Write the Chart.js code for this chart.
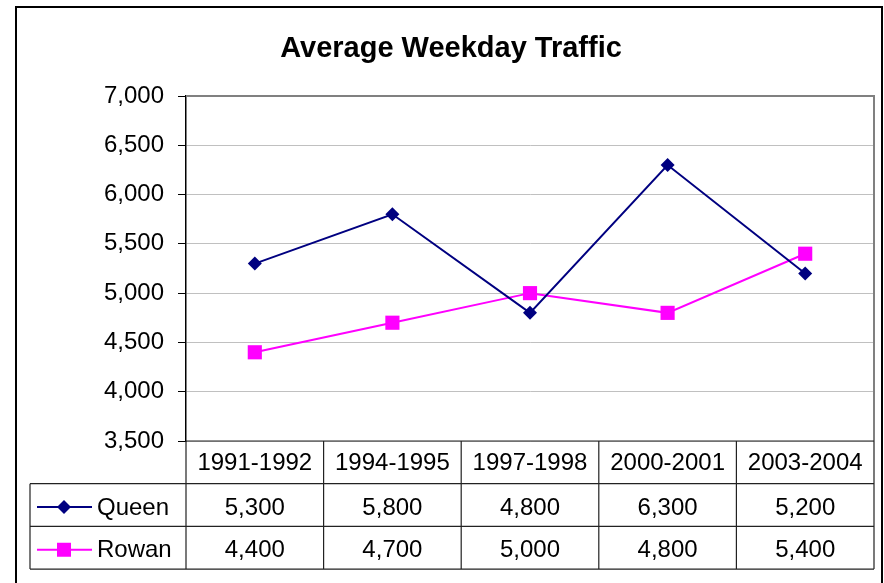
<!DOCTYPE html>
<html>
<head>
<meta charset="utf-8">
<script src="https://cdn.jsdelivr.net/npm/chart.js@4"></script>
<style>
  html, body { margin: 0; padding: 0; background: #fff; }
  #trafficChart { display: block; }
</style>
</head>
<body>
<canvas id="trafficChart" width="884" height="583"></canvas>
<script>
// ===== DATA =====
const categories = ['1991-1992', '1994-1995', '1997-1998', '2000-2001', '2003-2004'];
const queen = [5300, 5800, 4800, 6300, 5200];
const rowan = [4400, 4700, 5000, 4800, 5400];
const seriesNames = ['Queen', 'Rowan'];
const yMin = 3500, yMax = 7000, yStep = 500;

const FONT = "'Liberation Sans', Arial, sans-serif";
const fmt = v => Number(v).toLocaleString('en-US');

// frame, title and the data table under the plot
const tablePlugin = {
  id: 'dataTable',
  beforeDraw(chart) {
    const c = chart.ctx;
    c.save();
    c.fillStyle = '#fff';
    c.fillRect(0, 0, chart.width, chart.height);
    c.restore();
  },
  afterDraw(chart) {
    const c = chart.ctx;
    const area = chart.chartArea;
    const xs = chart.scales.x;
    const half = (xs.getPixelForValue(1) - xs.getPixelForValue(0)) / 2;
    const rowH = 42.7;
    const top = area.bottom;
    const legLeft = 30;
    const rows = [top, top + rowH, top + 2 * rowH, top + 3 * rowH];

    c.save();
    // plot area top + right border
    c.strokeStyle = '#808080';
    c.lineWidth = 2;
    c.beginPath();
    c.moveTo(area.left, area.top);
    c.lineTo(area.right, area.top);
    c.lineTo(area.right, area.bottom);
    c.stroke();

    // table grid
    c.strokeStyle = '#222';
    c.lineWidth = 1.2;
    c.beginPath();
    c.moveTo(area.left, rows[0]); c.lineTo(area.right, rows[0]);
    for (let r = 1; r < rows.length; r++) {
      c.moveTo(legLeft, rows[r]); c.lineTo(area.right, rows[r]);
    }
    c.moveTo(legLeft, rows[1]); c.lineTo(legLeft, rows[3]);
    categories.forEach((cat, i) => {
      const x = xs.getPixelForValue(i) - half;
      c.moveTo(x, rows[0]); c.lineTo(x, rows[3]);
    });
    c.moveTo(area.right, rows[0]); c.lineTo(area.right, rows[3]);
    c.stroke();

    // header + values
    c.fillStyle = '#000';
    c.font = '24px ' + FONT;
    c.textAlign = 'center';
    c.textBaseline = 'middle';
    categories.forEach((cat, i) => {
      const x = xs.getPixelForValue(i);
      c.fillText(cat, x, (rows[0] + rows[1]) / 2 + 1);
      c.fillText(fmt(queen[i]), x, (rows[1] + rows[2]) / 2 + 3);
      c.fillText(fmt(rowan[i]), x, (rows[2] + rows[3]) / 2 + 3);
    });

    // legend keys
    chart.data.datasets.forEach((ds, k) => {
      const y = (rows[k + 1] + rows[k + 2]) / 2 + 2;
      c.strokeStyle = ds.borderColor;
      c.lineWidth = 2;
      c.beginPath();
      c.moveTo(37, y); c.lineTo(92, y);
      c.stroke();
      c.fillStyle = ds.pointBackgroundColor;
      c.beginPath();
      if (ds.pointStyle === 'rectRot') {
        c.moveTo(64, y - 7); c.lineTo(71, y); c.lineTo(64, y + 7); c.lineTo(57, y);
        c.closePath();
      } else {
        c.rect(57, y - 7, 14, 14);
      }
      c.fill();
      c.fillStyle = '#000';
      c.textAlign = 'left';
      c.fillText(seriesNames[k], 97, y + 1);
    });

    // title
    c.font = 'bold 29px ' + FONT;
    c.textAlign = 'center';
    c.fillText('Average Weekday Traffic', 451, 49);

    // outer frame
    c.strokeStyle = '#000';
    c.lineWidth = 2;
    c.strokeRect(16, 7, 866, 600);
    c.restore();
  }
};

new Chart(document.getElementById('trafficChart'), {
  type: 'line',
  data: {
    labels: categories,
    datasets: [{
      label: seriesNames[0],
      data: queen,
      borderColor: '#000080',
      backgroundColor: '#000080',
      pointBackgroundColor: '#000080',
      pointBorderColor: '#000080',
      pointStyle: 'rectRot',
      pointRadius: 7,
      pointBorderWidth: 0,
      borderWidth: 2,
      tension: 0
    }, {
      label: seriesNames[1],
      data: rowan,
      borderColor: '#ff00ff',
      backgroundColor: '#ff00ff',
      pointBackgroundColor: '#ff00ff',
      pointBorderColor: '#ff00ff',
      pointStyle: 'rect',
      pointRadius: 10,
      pointBorderWidth: 0,
      borderWidth: 2,
      tension: 0
    }]
  },
  options: {
    responsive: false,
    animation: false,
    layout: { padding: { top: 96, right: 9, bottom: 142, left: 0 } },
    plugins: { legend: { display: false }, title: { display: false }, tooltip: { enabled: false } },
    scales: {
      x: {
        offset: true,
        grid: { display: false, drawTicks: false },
        ticks: { display: false },
        border: { display: false },
        afterFit: s => { s.height = 0; }
      },
      y: {
        min: yMin,
        max: yMax,
        ticks: {
          stepSize: yStep,
          color: '#000',
          padding: 14,
          font: { family: FONT, size: 24 },
          callback: v => fmt(v)
        },
        grid: { color: '#c0c0c0', tickColor: '#000', tickLength: 8, lineWidth: 1 },
        border: { color: '#000', width: 1.5 },
        afterFit: s => { s.width = 186; }
      }
    }
  },
  plugins: [tablePlugin]
});
</script>
</body>
</html>
